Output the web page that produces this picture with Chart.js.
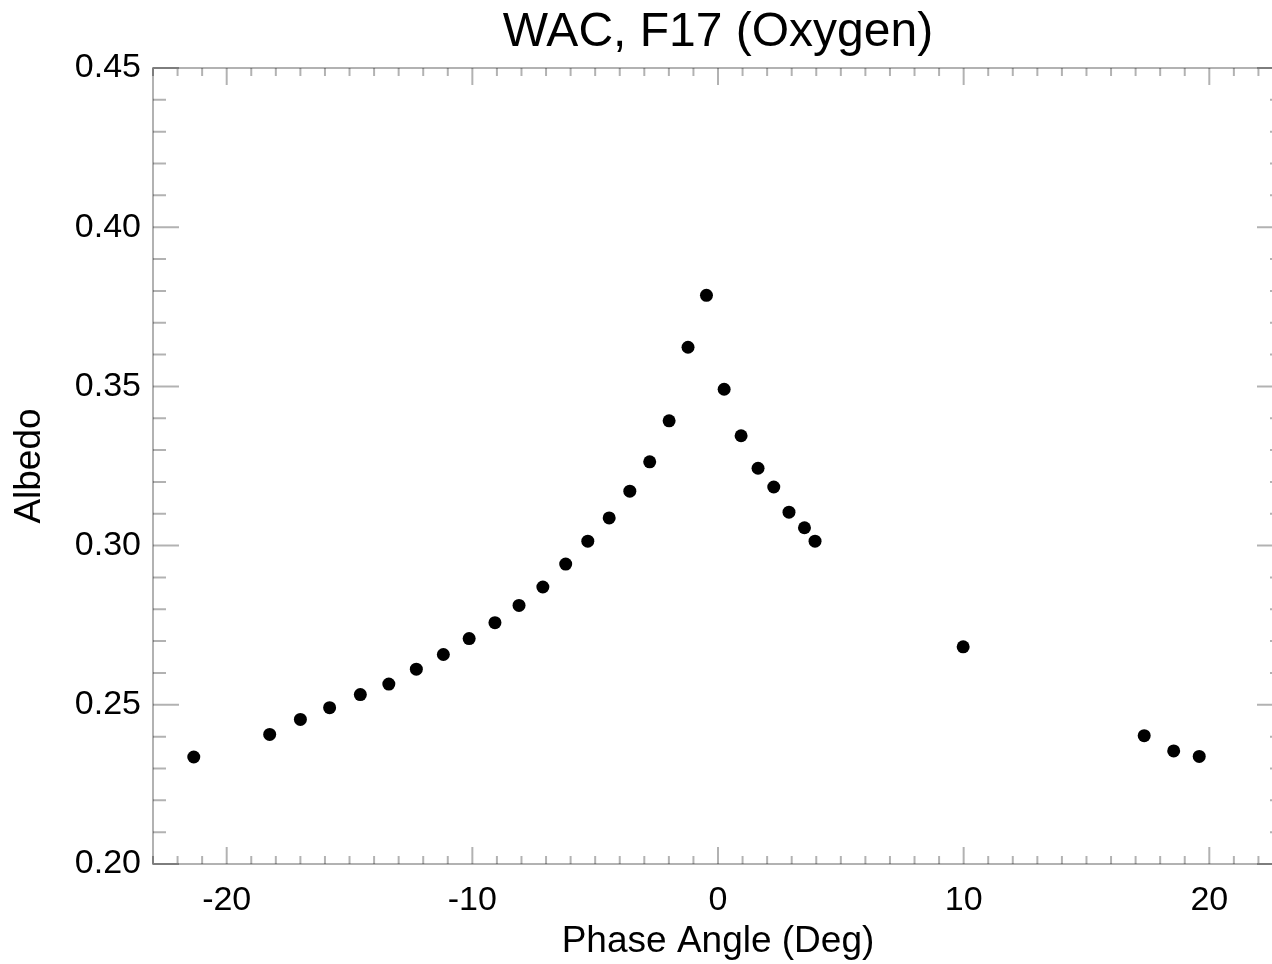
<!DOCTYPE html>
<html>
<head>
<meta charset="utf-8">
<script src="https://cdn.jsdelivr.net/npm/chart.js@4/dist/chart.umd.min.js"></script>
<style>
  html, body { margin: 0; padding: 0; background: #ffffff; overflow: hidden; }
  #wrap { width: 1272px; height: 964px; overflow: hidden; position: relative; }
  canvas { display: block; }
</style>
</head>
<body>
<div id="wrap"><canvas id="c" width="1300" height="964" style="width:1300px;height:964px"></canvas></div>
<script>
// ---- data ----
const phaseAngle = [-21.34, -18.25, -17.00, -15.81, -14.56, -13.40, -12.28, -11.18, -10.13, -9.08,
                    -8.10, -7.13, -6.20, -5.30, -4.43, -3.59, -2.78, -1.99, -1.22, -0.47,
                    0.25, 0.94, 1.63, 2.27, 2.89, 3.52, 3.95, 9.98, 17.35, 18.55, 19.59];
const albedo = [0.2336, 0.2407, 0.2454, 0.2491, 0.2532, 0.2565, 0.2612, 0.2658, 0.2708, 0.2758,
                0.2812, 0.2870, 0.2942, 0.3014, 0.3087, 0.3171, 0.3263, 0.3392, 0.3623, 0.3786,
                0.3491, 0.3345, 0.3243, 0.3184, 0.3105, 0.3056, 0.3014, 0.2682, 0.2403, 0.2355, 0.2338];
const xRange = [-23, 23];
const yRange = [0.20, 0.45];
const xMajorTicks = [-20, -10, 0, 10, 20];
const yMajorTicks = [0.20, 0.25, 0.30, 0.35, 0.40, 0.45];
const chartTitle = 'WAC, F17 (Oxygen)';
const xTitle = 'Phase Angle (Deg)';
const yTitle = 'Albedo';

const points = phaseAngle.map((x, i) => ({ x: x, y: albedo[i] }));

Chart.defaults.font.family = '"Liberation Sans", Arial, Helvetica, sans-serif';
Chart.defaults.color = '#000000';

const axisColor = 'rgba(0,0,0,0.3)';

const idlAxes = {
  id: 'idlAxes',
  beforeDatasetsDraw(chart) {
    const ctx = chart.ctx;
    const xs = chart.scales.x, ys = chart.scales.y;
    const a = chart.chartArea;
    ctx.save();
    ctx.strokeStyle = axisColor;
    ctx.lineWidth = 2;
    ctx.beginPath();
    ctx.rect(a.left, a.top, a.right - a.left, a.bottom - a.top);
    ctx.stroke();
    ctx.beginPath();
    // x ticks every 1 unit, major every 10
    for (let v = Math.ceil(xRange[0]); v <= Math.floor(xRange[1]); v++) {
      const px = xs.getPixelForValue(v);
      const len = (v % 10 === 0) ? 17 : 8;
      ctx.moveTo(px, a.bottom); ctx.lineTo(px, a.bottom - len);
      ctx.moveTo(px, a.top); ctx.lineTo(px, a.top + len);
    }
    // y ticks every 0.01, major every 0.05
    for (let k = 20; k <= 45; k++) {
      const v = k / 100;
      const py = ys.getPixelForValue(v);
      const len = (k % 5 === 0) ? 26 : 13;
      ctx.moveTo(a.left, py); ctx.lineTo(a.left + len, py);
      ctx.moveTo(a.right, py); ctx.lineTo(a.right - len, py);
    }
    ctx.stroke();
    ctx.restore();
  }
};

new Chart(document.getElementById('c'), {
  type: 'scatter',
  data: {
    datasets: [{
      data: points,
      backgroundColor: '#000000',
      borderColor: '#000000',
      borderWidth: 0,
      pointRadius: 6.5,
      pointHoverRadius: 6.5,
      showLine: false
    }]
  },
  options: {
    responsive: false,
    animation: false,
    devicePixelRatio: 1,
    layout: { padding: { left: 0, right: 17, top: 0, bottom: 0 } },
    plugins: {
      legend: { display: false },
      tooltip: { enabled: false },
      title: {
        display: true,
        text: chartTitle,
        fullSize: false,
        color: '#000000',
        font: { size: 48, weight: 'normal' },
        padding: { top: 4, bottom: 6.4 }
      }
    },
    scales: {
      x: {
        type: 'linear',
        position: 'bottom',
        min: xRange[0],
        max: xRange[1],
        afterBuildTicks(s) { s.ticks = xMajorTicks.map(v => ({ value: v })); },
        afterFit(s) { s.height = 100; },
        grid: { display: false, drawTicks: false },
        border: { display: false },
        ticks: {
          includeBounds: false,
          autoSkip: false,
          maxRotation: 0,
          padding: 16,
          color: '#000000',
          font: { size: 34 },
          callback: v => String(v)
        },
        title: {
          display: true,
          text: xTitle,
          color: '#000000',
          font: { size: 37 },
          padding: { top: 0, bottom: 0 }
        }
      },
      y: {
        type: 'linear',
        position: 'left',
        min: yRange[0],
        max: yRange[1],
        afterBuildTicks(s) { s.ticks = yMajorTicks.map(v => ({ value: v })); },
        afterFit(s) { s.width = 153; },
        grid: { display: false, drawTicks: false },
        border: { display: false },
        ticks: {
          includeBounds: false,
          autoSkip: false,
          padding: 12,
          color: '#000000',
          font: { size: 34 },
          callback: v => Number(v).toFixed(2)
        },
        title: {
          display: true,
          text: yTitle,
          color: '#000000',
          font: { size: 37 },
          padding: { top: 8, bottom: 0 }
        }
      }
    }
  },
  plugins: [idlAxes]
});
</script>
</body>
</html>
